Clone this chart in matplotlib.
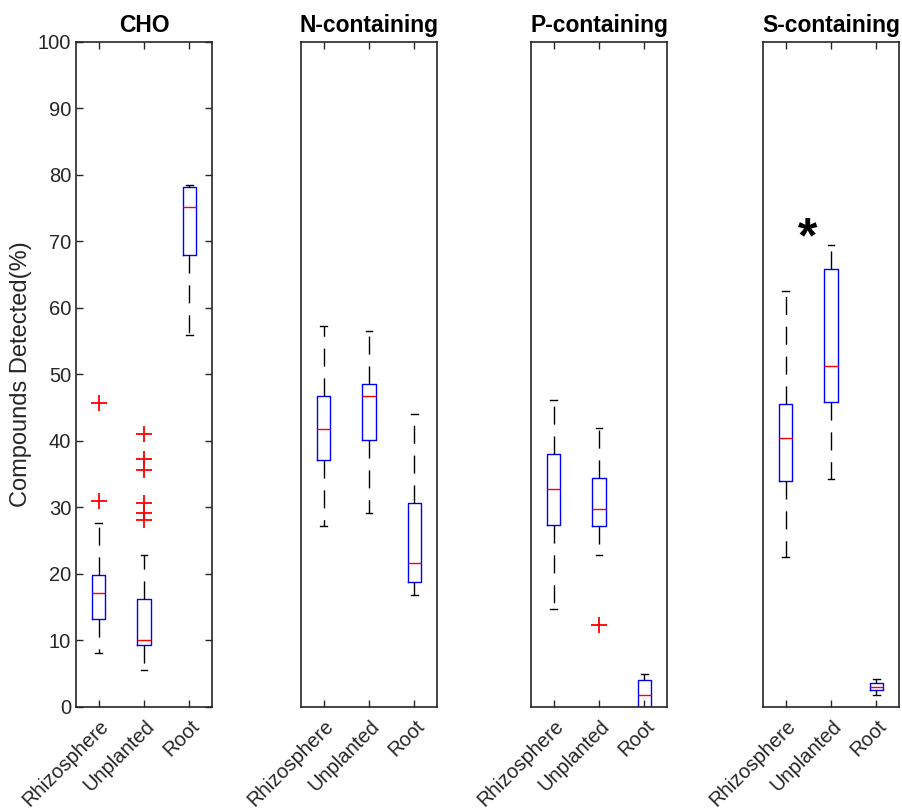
import matplotlib
matplotlib.use('Agg')
import matplotlib.pyplot as plt
from matplotlib.transforms import ScaledTranslation

plt.rcParams['font.family'] = ['Liberation Sans', 'DejaVu Sans']

# 样品组和面板
groups = ['Rhizosphere', 'Unplanted', 'Root']
panels = ['CHO', 'N-containing', 'P-containing', 'S-containing']

# 箱线图统计量: 下须, Q1, 中位数, Q3, 上须, 离群点
cho_whislo = [8.1, 5.5, 56.0]
cho_q1 = [13.2, 9.3, 67.9]
cho_med = [17.2, 10.1, 75.2]
cho_q3 = [19.9, 16.2, 78.2]
cho_whishi = [27.6, 22.8, 78.5]
cho_fliers = [[45.7, 31.0], [41.1, 37.3, 35.6, 30.6, 29.1, 28.1], []]

n_whislo = [27.2, 29.1, 16.8]
n_q1 = [37.1, 40.1, 18.8]
n_med = [41.8, 46.7, 21.6]
n_q3 = [46.8, 48.5, 30.6]
n_whishi = [57.3, 56.5, 44.1]
n_fliers = [[], [], []]

p_whislo = [14.7, 22.9, 0.0]
p_q1 = [27.3, 27.2, 0.0]
p_med = [32.8, 29.8, 1.8]
p_q3 = [38.1, 34.4, 4.1]
p_whishi = [46.2, 42.0, 4.9]
p_fliers = [[], [12.3], []]

s_whislo = [22.6, 34.3, 1.8]
s_q1 = [34.0, 45.9, 2.5]
s_med = [40.5, 51.3, 3.0]
s_q3 = [45.6, 65.8, 3.6]
s_whishi = [62.6, 69.5, 4.2]
s_fliers = [[], [], []]

panel_data = [
    (cho_whislo, cho_q1, cho_med, cho_q3, cho_whishi, cho_fliers),
    (n_whislo, n_q1, n_med, n_q3, n_whishi, n_fliers),
    (p_whislo, p_q1, p_med, p_q3, p_whishi, p_fliers),
    (s_whislo, s_q1, s_med, s_q3, s_whishi, s_fliers),
]

# 显著性标记
star_panel = 3
star_x = 1.48
star_y = 68.3

axis_color = '#262626'

fig = plt.figure(figsize=(9.02, 8.10), dpi=100)
lefts_px = [76, 301, 531, 763]

for i, (name, data) in enumerate(zip(panels, panel_data)):
    ax = fig.add_axes([lefts_px[i] / 902, 0.1272, 136 / 902, 0.821])
    whislo, q1, med, q3, whishi, fliers = data
    stats = []
    for j in range(len(groups)):
        stats.append(dict(whislo=whislo[j], q1=q1[j], med=med[j], q3=q3[j],
                          whishi=whishi[j], fliers=fliers[j], label=groups[j]))

    ax.bxp(stats, positions=[1, 2, 3], widths=0.3, capwidths=0.15,
           boxprops=dict(color='blue', linewidth=1.0),
           medianprops=dict(color='red', linewidth=1.0),
           whiskerprops=dict(color='black', linestyle=(0, (13, 8.5)), linewidth=1.0),
           capprops=dict(color='black', linewidth=1.0),
           flierprops=dict(marker='+', markeredgecolor='red', markersize=11,
                           markeredgewidth=1.3, linestyle='none'))

    ax.set_xlim(0.5, 3.5)
    ax.set_ylim(0, 100)
    ax.set_xticks([1, 2, 3])
    ax.set_xticklabels(groups, rotation=45, ha='right', fontsize=14.5, color=axis_color)

    for sp in ax.spines.values():
        sp.set_color(axis_color)
        sp.set_linewidth(1.2)

    ax.tick_params(axis='x', direction='in', length=5, width=1, top=True,
                   color=axis_color, pad=7)
    if i == 0:
        ax.set_yticks(range(0, 101, 10))
        ax.tick_params(axis='y', direction='in', length=5, width=1, right=True,
                       color=axis_color, labelsize=14.5, labelcolor=axis_color)
        ax.set_ylabel('Compounds Detected(%)', fontsize=17, color=axis_color, labelpad=4)
    else:
        ax.tick_params(axis='y', left=False, right=False, labelleft=False)

    # 标签右移（须在 tick_params 之后设置）
    for lab in ax.get_xticklabels():
        lab.set_transform(lab.get_transform() + ScaledTranslation(0.14, 0, fig.dpi_scale_trans))

    ax.set_title(name, fontsize=16.5, fontweight='bold', pad=7.5)

    if i == star_panel:
        ax.text(star_x, star_y, '*', fontsize=36, fontweight='bold',
                ha='center', va='baseline')

fig.savefig('out.png', dpi=100)
